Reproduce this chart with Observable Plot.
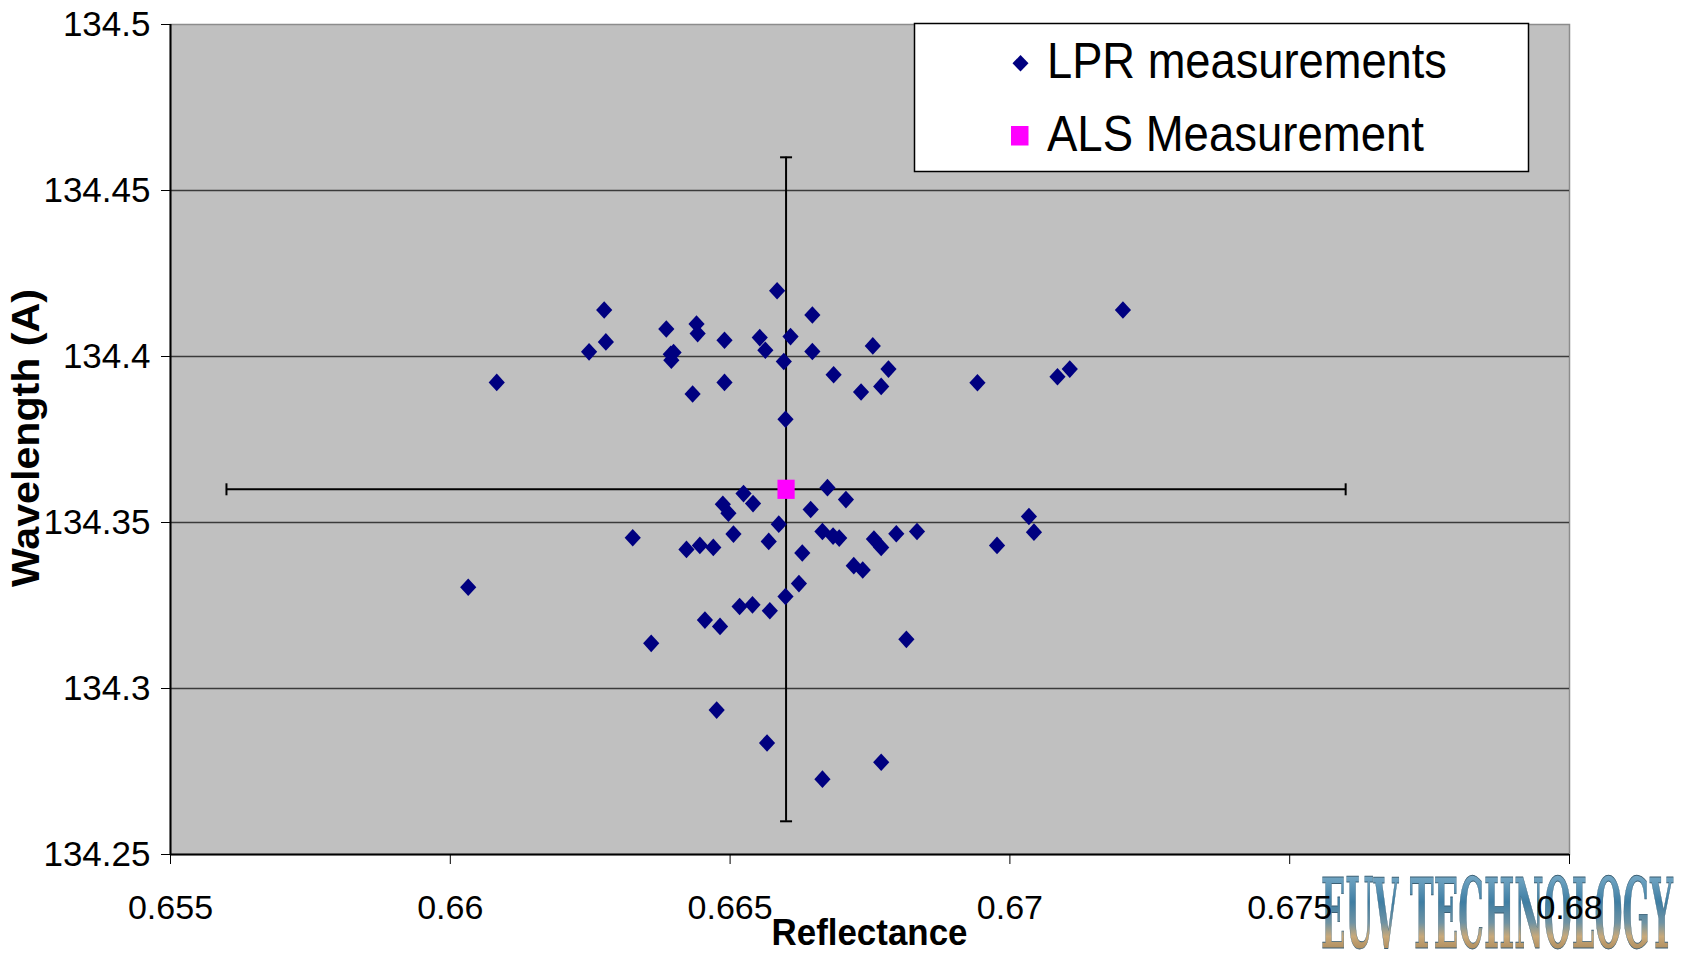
<!DOCTYPE html>
<html><head><meta charset="utf-8">
<script src="https://cdn.jsdelivr.net/npm/d3@7"></script>
<script src="https://cdn.jsdelivr.net/npm/@observablehq/plot@0.6"></script>
<style>html,body{margin:0;padding:0;background:#fff;} #chart{position:relative;width:1688px;height:953px;}</style>
</head><body><div id="chart"></div>
<script>
// ---- data ----
const lprReflectance = [
  0.66083, 0.66032, 0.66275, 0.66278, 0.66248, 0.66326, 0.66359, 0.66386, 0.66394, 0.66399,
  0.66395, 0.66440, 0.66442, 0.66433, 0.66490, 0.66490, 0.66422, 0.66446, 0.66470, 0.66487,
  0.66497, 0.66506, 0.66524, 0.66541, 0.66455, 0.66482, 0.66476, 0.66517, 0.66540, 0.66553,
  0.66563, 0.66584, 0.66608, 0.66596, 0.66599, 0.66647, 0.66647, 0.66685, 0.66587, 0.66569,
  0.66644, 0.66674, 0.66707, 0.66665, 0.66684, 0.66695, 0.66629, 0.66623, 0.66599, 0.66571,
  0.66566, 0.66665, 0.66721, 0.66737, 0.66755, 0.66734, 0.66770, 0.66783, 0.66757, 0.66770,
  0.66797, 0.66834, 0.66815, 0.66770, 0.66942, 0.66977, 0.67034, 0.67043, 0.67085, 0.67107,
  0.67202
];
const lprWavelength = [
  134.3922, 134.3305, 134.4140, 134.4044, 134.4014, 134.3454, 134.3136, 134.4083, 134.4007, 134.4012,
  134.3989, 134.4098, 134.4069, 134.3887, 134.4049, 134.3922, 134.3419, 134.3431, 134.3425, 134.3555,
  134.3528, 134.3465, 134.3587, 134.3557, 134.3206, 134.3187, 134.2935, 134.3247, 134.3252, 134.4057,
  134.4019, 134.4198, 134.4060, 134.3985, 134.3811, 134.4125, 134.4015, 134.3945, 134.3495, 134.3443,
  134.3539, 134.3605, 134.3569, 134.3473, 134.3459, 134.3453, 134.3408, 134.3316, 134.3277, 134.3234,
  134.2836, 134.2727, 134.3370, 134.3357, 134.4032, 134.3893, 134.3910, 134.3962, 134.3450, 134.3425,
  134.3466, 134.3473, 134.3148, 134.2778, 134.3921, 134.3431, 134.3518, 134.3471, 134.3939, 134.3962,
  134.4140
];
const alsReflectance = [0.666];
const alsWavelength = [134.36];
const alsReflectanceError = [0.01];
const alsWavelengthError = [0.1];

const xTicks = [0.655, 0.66, 0.665, 0.67, 0.675, 0.68];
const xTickLabels = ["0.655", "0.66", "0.665", "0.67", "0.675", "0.68"];
const yTicks = [134.25, 134.3, 134.35, 134.4, 134.45, 134.5];
const yTickLabels = ["134.25", "134.3", "134.35", "134.4", "134.45", "134.5"];
const gridTicks = [134.3, 134.35, 134.4, 134.45];
const seriesNames = ["LPR measurements", "ALS Measurement"];
const xTitle = "Reflectance";
const yTitle = "Wavelength (A)";
const logoText = "EUV TECHNOLOGY";

// ---- build tables ----
const lpr = lprReflectance.map((x, i) => ({x, y: lprWavelength[i]}));
const als = alsReflectance.map((x, i) => ({x, y: alsWavelength[i], ex: alsReflectanceError[i], ey: alsWavelengthError[i]}));

const capV = {draw(ctx) { ctx.moveTo(0, -6); ctx.lineTo(0, 6); }};
const capH = {draw(ctx) { ctx.moveTo(-6, 0); ctx.lineTo(6, 0); }};
const diamond = {draw(ctx) { ctx.moveTo(0, -8.8); ctx.lineTo(8.1, 0); ctx.lineTo(0, 8.8); ctx.lineTo(-8.1, 0); ctx.closePath(); }};
const square = {draw(ctx) { ctx.rect(-8.6, -9.6, 17.2, 19.2); }};

const FONT = "'Liberation Sans', Arial, Helvetica, sans-serif";

const plot = Plot.plot({
  width: 1688, height: 953,
  marginLeft: 170, marginRight: 119, marginTop: 24, marginBottom: 99,
  style: {fontFamily: FONT, fontSize: "35px", color: "#000", background: "transparent", overflow: "visible"},
  x: {domain: [0.655, 0.68]},
  y: {domain: [134.25, 134.5]},
  marks: [
    Plot.frame({fill: "#c0c0c0", stroke: "#8c8c8c", strokeWidth: 1.5}),
    Plot.gridY(gridTicks, {stroke: "#3a3a3a", strokeOpacity: 1, strokeWidth: 1.6}),
    Plot.ruleY([134.25], {stroke: "#000", strokeWidth: 2}),
    Plot.ruleX([0.655], {stroke: "#000", strokeWidth: 2}),
    Plot.axisX(xTicks, {tickFormat: d => xTickLabels[xTicks.indexOf(d)], tickSize: 10, tickPadding: 30, fontSize: 34, label: null, stroke: "#000"}),
    Plot.axisY(yTicks, {tickFormat: d => yTickLabels[yTicks.indexOf(d)], tickSize: 9, tickPadding: 11, fontSize: 35, label: null, stroke: "#000"}),
    // error bars
    Plot.ruleY(als, {y: "y", x1: d => d.x - d.ex, x2: d => d.x + d.ex, stroke: "#000", strokeWidth: 2}),
    Plot.ruleX(als, {x: "x", y1: d => d.y - d.ey, y2: d => d.y + d.ey, stroke: "#000", strokeWidth: 2}),
    Plot.dot(als, {x: d => d.x - d.ex, y: "y", symbol: capV, r: 4, fill: "none", stroke: "#000", strokeWidth: 2}),
    Plot.dot(als, {x: d => d.x + d.ex, y: "y", symbol: capV, r: 4, fill: "none", stroke: "#000", strokeWidth: 2}),
    Plot.dot(als, {x: "x", y: d => d.y - d.ey, symbol: capH, r: 4, fill: "none", stroke: "#000", strokeWidth: 2}),
    Plot.dot(als, {x: "x", y: d => d.y + d.ey, symbol: capH, r: 4, fill: "none", stroke: "#000", strokeWidth: 2}),
    // LPR points
    Plot.dot(lpr, {x: "x", y: "y", symbol: diamond, r: 7, fill: "#000080", stroke: "none"}),
    // ALS point
    Plot.dot(als, {x: "x", y: "y", symbol: square, r: 9, fill: "#ff00ff", stroke: "none"})
  ]
});

document.getElementById("chart").appendChild(plot);

// ---- decorations: titles, legend, logo ----
const svg = d3.select(plot);

// logo behind everything
const logo = svg.insert("g", ":first-child");
const defs = logo.append("defs");
const grad = defs.append("linearGradient").attr("id", "logoGrad").attr("x1", 0).attr("y1", 0).attr("x2", 0).attr("y2", 1);
[["0%", "#e6eef3"], ["12%", "#7fb0cc"], ["40%", "#3f7ea3"], ["58%", "#6f93a3"], ["70%", "#c8a97a"], ["88%", "#a07c4c"], ["100%", "#e8d8bc"]]
  .forEach(([o, c]) => grad.append("stop").attr("offset", o).attr("stop-color", c));
logo.append("text")
  .attr("x", 1497).attr("y", 948)
  .attr("text-anchor", "middle")
  .attr("font-family", "'DejaVu Serif', serif")
  .attr("font-weight", "bold")
  .attr("font-size", 98)
  .attr("textLength", 352).attr("lengthAdjust", "spacingAndGlyphs")
  .attr("fill", "url(#logoGrad)")
  .attr("stroke", "#3b5f74").attr("stroke-width", 0.8)
  .text(logoText);

// axis titles
svg.append("text")
  .attr("x", 869.5).attr("y", 945)
  .attr("text-anchor", "middle")
  .attr("font-family", FONT).attr("font-weight", "bold").attr("font-size", 37)
  .attr("textLength", 196).attr("lengthAdjust", "spacingAndGlyphs")
  .attr("fill", "#000")
  .text(xTitle);
svg.append("text")
  .attr("transform", "translate(39,438) rotate(-90)")
  .attr("text-anchor", "middle")
  .attr("font-family", FONT).attr("font-weight", "bold").attr("font-size", 38)
  .attr("textLength", 298).attr("lengthAdjust", "spacingAndGlyphs")
  .attr("fill", "#000")
  .text(yTitle);

// legend
const lg = svg.append("g");
lg.append("rect").attr("x", 914.5).attr("y", 23.5).attr("width", 614).attr("height", 148)
  .attr("fill", "#fff").attr("stroke", "#000").attr("stroke-width", 1.5);
lg.append("path").attr("d", "M1020.5,55 L1028.5,63.3 L1020.5,71.6 L1012.5,63.3 Z").attr("fill", "#000080");
lg.append("rect").attr("x", 1011).attr("y", 126).attr("width", 17.5).attr("height", 19.5).attr("fill", "#ff00ff");
lg.append("text").attr("x", 1047).attr("y", 78)
  .attr("text-anchor", "start")
  .attr("font-family", FONT).attr("font-size", 50)
  .attr("textLength", 400).attr("lengthAdjust", "spacingAndGlyphs")
  .attr("fill", "#000").text(seriesNames[0]);
lg.append("text").attr("x", 1047).attr("y", 151)
  .attr("text-anchor", "start")
  .attr("font-family", FONT).attr("font-size", 50)
  .attr("textLength", 377).attr("lengthAdjust", "spacingAndGlyphs")
  .attr("fill", "#000").text(seriesNames[1]);
</script>
</body></html>
